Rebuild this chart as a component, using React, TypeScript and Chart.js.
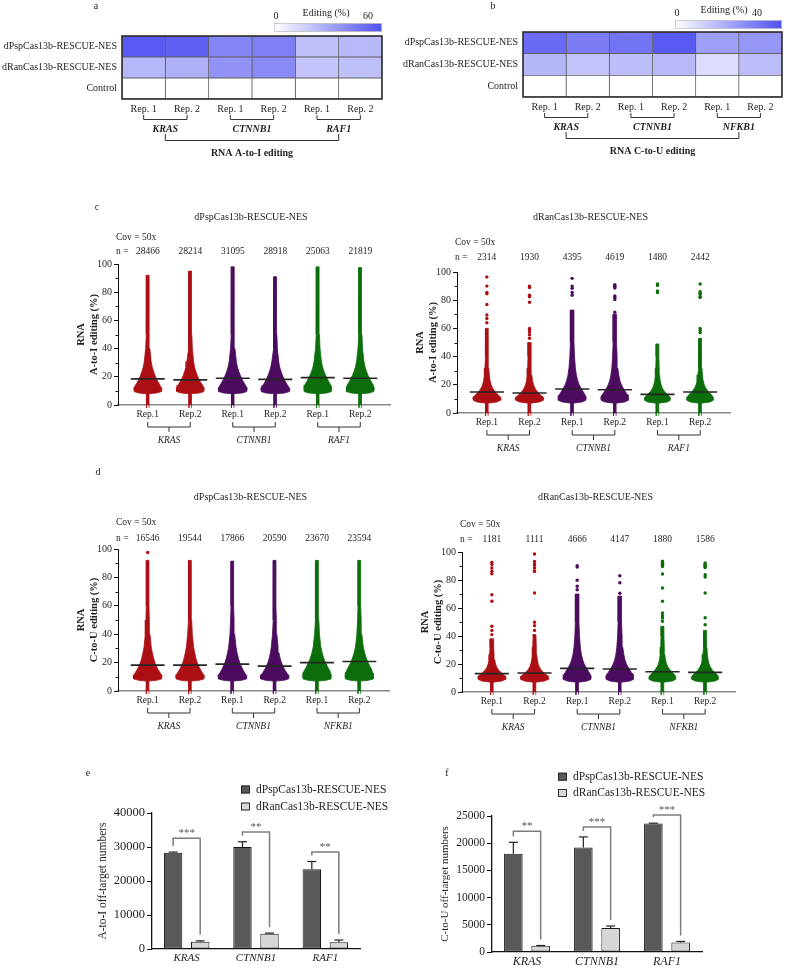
import React, { useEffect, useRef } from 'react';
import { Chart, registerables } from 'chart.js';

Chart.register(...registerables);

const SERIF = "'Liberation Serif', 'Times New Roman', Times, serif";
const INK = '#1e1e1e';

/* ---------------- panels a / b : heatmaps ---------------- */
const HEAT_ROWS = ['dPspCas13b-RESCUE-NES', 'dRanCas13b-RESCUE-NES', 'Control'];
const HEAT_REPS = ['Rep. 1', 'Rep. 2', 'Rep. 1', 'Rep. 2', 'Rep. 1', 'Rep. 2'];
const GENES_AI = ['KRAS', 'CTNNB1', 'RAF1'];
const GENES_CU = ['KRAS', 'CTNNB1', 'NFKB1'];
const HEAT_A_PSP = [57, 55, 42, 44, 22, 24];
const HEAT_A_RAN = [25, 27, 37, 40, 20, 22];
const HEAT_A_CTRL = [0, 0, 0, 0, 0, 0];
const HEAT_A_MAX = 60;
const HEAT_B_PSP = [34, 30, 32, 38, 22, 24];
const HEAT_B_RAN = [17, 13.5, 15, 16, 8, 15];
const HEAT_B_CTRL = [0, 0, 0, 0, 0, 0];
const HEAT_B_MAX = 40;
const HEAT_HIGH = [80, 80, 242];

/* ---------------- panels c / d : swarm plots ---------------- */
const REP_LABELS = ['Rep.1', 'Rep.2', 'Rep.1', 'Rep.2', 'Rep.1', 'Rep.2'];
const COL_COLORS = ['#ab0f14', '#ab0f14', '#4b0b5e', '#4b0b5e', '#0b6e0b', '#0b6e0b'];
const Y_TICKS_MINOR = [10, 30, 50, 70, 90];

// c, left: dPspCas13b A-to-I
const C_PSP_N = ['28466', '28214', '31095', '28918', '25063', '21819'];
const C_PSP_MEDIAN = [18.5, 17.8, 19, 18.2, 19.4, 19];
const C_PSP_TOP = [92, 95, 98, 91, 98, 97.5];
const C_PSP_OUTLIERS = [[], [], [], [], [], []];
const PSP_LEVELS = [-2, 8, 8.5, 9.5, 12, 13, 14, 15.5, 17, 19, 21, 23.5, 27, 31, 40, 50, 60];
const C_PSP_WIDTHS = [
  [0.03, 0.03, 0.21, 0.32, 0.33, 0.31, 0.29, 0.26, 0.23, 0.2, 0.17, 0.14, 0.105, 0.08, 0.05, 0.038, 0.03],
  [0.03, 0.03, 0.21, 0.32, 0.33, 0.31, 0.29, 0.26, 0.225, 0.195, 0.165, 0.135, 0.1, 0.078, 0.049, 0.037, 0.03],
  [0.03, 0.03, 0.22, 0.33, 0.34, 0.32, 0.3, 0.27, 0.24, 0.21, 0.18, 0.145, 0.11, 0.084, 0.052, 0.04, 0.031],
  [0.03, 0.03, 0.22, 0.33, 0.34, 0.31, 0.29, 0.26, 0.23, 0.2, 0.17, 0.138, 0.104, 0.08, 0.05, 0.038, 0.03],
  [0.03, 0.03, 0.21, 0.32, 0.33, 0.32, 0.31, 0.28, 0.25, 0.22, 0.185, 0.15, 0.113, 0.086, 0.053, 0.04, 0.031],
  [0.03, 0.03, 0.21, 0.32, 0.33, 0.32, 0.31, 0.28, 0.25, 0.22, 0.185, 0.15, 0.113, 0.086, 0.053, 0.04, 0.031],
];

// c, right: dRanCas13b A-to-I
const C_RAN_N = ['2314', '1930', '4395', '4619', '1480', '2442'];
const C_RAN_MEDIAN = [14.9, 14.2, 17, 16.5, 13.2, 14.9];
const C_RAN_TOP = [60, 50, 73, 70, 49, 53];
const C_RAN_OUTLIERS = [
  [96.5, 90, 85.5, 84.5, 77, 69.5, 67, 64],
  [90, 89, 83.5, 82.5, 78.5, 60, 59, 57.5, 55.5, 53],
  [95.5, 90, 88.5, 85.5, 83.5],
  [91, 90.3, 89.5, 88.7, 83, 82, 80.5, 71.5],
  [91.5, 90.5, 86.5, 85.5],
  [91.5, 86, 85, 84, 82.5, 82, 60, 58.5, 57],
];
const RAN_LEVELS = [-2, 7, 7.8, 9, 11, 12.5, 14, 16, 18, 20, 23, 27, 32, 40, 50];
const C_RAN_WIDTHS = [
  [0.03, 0.03, 0.23, 0.32, 0.33, 0.28, 0.23, 0.17, 0.13, 0.1, 0.075, 0.058, 0.045, 0.037, 0.03],
  [0.03, 0.03, 0.23, 0.32, 0.33, 0.27, 0.22, 0.16, 0.12, 0.094, 0.07, 0.054, 0.043, 0.035, 0.03],
  [0.03, 0.03, 0.23, 0.32, 0.33, 0.31, 0.28, 0.24, 0.2, 0.165, 0.13, 0.098, 0.075, 0.055, 0.042],
  [0.03, 0.03, 0.23, 0.32, 0.33, 0.31, 0.27, 0.23, 0.19, 0.155, 0.12, 0.092, 0.07, 0.053, 0.04],
  [0.03, 0.03, 0.23, 0.3, 0.3, 0.26, 0.2, 0.145, 0.11, 0.086, 0.063, 0.05, 0.04, 0.032, 0.03],
  [0.03, 0.03, 0.23, 0.31, 0.31, 0.28, 0.23, 0.17, 0.125, 0.097, 0.07, 0.054, 0.042, 0.034, 0.03],
];

// d, left: dPspCas13b C-to-U
const D_PSP_N = ['16546', '19544', '17866', '20590', '23670', '23594'];
const D_PSP_MEDIAN = [18.2, 18.2, 18.9, 17.5, 20, 20.8];
const D_PSP_TOP = [92, 92, 91.5, 92, 92, 92];
const D_PSP_OUTLIERS = [[97.5], [], [], [], [], []];
const D_PSP_LEVELS = [-2, 7, 7.5, 8.5, 11, 12, 13, 14.5, 16, 18, 20, 23, 27, 31, 40, 50, 60];
const D_PSP_WIDTHS = [
  [0.03, 0.03, 0.21, 0.33, 0.34, 0.31, 0.29, 0.26, 0.23, 0.2, 0.17, 0.14, 0.11, 0.085, 0.055, 0.04, 0.031],
  [0.03, 0.03, 0.21, 0.33, 0.34, 0.31, 0.29, 0.26, 0.23, 0.2, 0.17, 0.14, 0.11, 0.085, 0.055, 0.04, 0.031],
  [0.03, 0.03, 0.21, 0.33, 0.34, 0.31, 0.29, 0.26, 0.235, 0.205, 0.175, 0.143, 0.112, 0.087, 0.056, 0.041, 0.031],
  [0.03, 0.03, 0.21, 0.33, 0.34, 0.3, 0.28, 0.25, 0.22, 0.19, 0.16, 0.13, 0.1, 0.08, 0.052, 0.039, 0.03],
  [0.03, 0.03, 0.21, 0.33, 0.34, 0.33, 0.32, 0.3, 0.27, 0.235, 0.2, 0.16, 0.12, 0.09, 0.058, 0.042, 0.032],
  [0.03, 0.03, 0.21, 0.33, 0.34, 0.33, 0.32, 0.3, 0.275, 0.24, 0.205, 0.165, 0.123, 0.092, 0.059, 0.043, 0.032],
];

// d, right: dRanCas13b C-to-U
const D_RAN_N = ['1181', '1111', '4666', '4147', '1880', '1586'];
const D_RAN_MEDIAN = [13.1, 13.6, 16.9, 16.4, 14.5, 14];
const D_RAN_TOP = [38, 41, 70, 68.5, 47, 44];
const D_RAN_OUTLIERS = [
  [92.6, 91, 88.6, 86.2, 84.5, 69.5, 64.8, 47, 44, 41],
  [98.6, 93.3, 91.5, 90.5, 88.6, 86.5, 86, 70.7, 49.8, 47.4, 44],
  [90.2, 89.2, 79.8, 75.5, 73],
  [83, 78, 70.5],
  [93.5, 92.8, 92, 91.2, 90.4, 89.6, 84.3, 74.3, 64.8, 56.4, 54.5, 52.9, 50.5],
  [92.1, 91.3, 90.5, 89.7, 88.9, 83.8, 82.1, 70.7, 53, 48],
];
const D_RAN_WIDTHS = [
  [0.03, 0.03, 0.23, 0.32, 0.33, 0.27, 0.21, 0.15, 0.11, 0.087, 0.066, 0.052, 0.042, 0.034, 0.03],
  [0.03, 0.03, 0.23, 0.32, 0.33, 0.27, 0.21, 0.15, 0.11, 0.087, 0.066, 0.052, 0.042, 0.034, 0.03],
  [0.03, 0.03, 0.23, 0.32, 0.33, 0.31, 0.28, 0.24, 0.2, 0.165, 0.13, 0.098, 0.075, 0.055, 0.042],
  [0.03, 0.03, 0.23, 0.32, 0.33, 0.31, 0.27, 0.23, 0.19, 0.155, 0.12, 0.092, 0.07, 0.053, 0.04],
  [0.03, 0.03, 0.23, 0.31, 0.31, 0.28, 0.23, 0.17, 0.125, 0.095, 0.07, 0.053, 0.042, 0.034, 0.03],
  [0.03, 0.03, 0.23, 0.31, 0.31, 0.28, 0.22, 0.16, 0.12, 0.092, 0.068, 0.052, 0.041, 0.033, 0.03],
];

/* ---------------- panels e / f : bar charts ---------------- */
const BAR_GENES = ['KRAS', 'CTNNB1', 'RAF1'];
const SERIES_NAMES = ['dPspCas13b-RESCUE-NES', 'dRanCas13b-RESCUE-NES'];
const E_PSP = [28340, 30007, 23441];
const E_PSP_SD = [178, 1539, 2294];
const E_RAN = [2122, 4507, 1961];
const E_RAN_SD = [272, 158, 680];
const E_SIG = ['***', '**', '**'];
const E_BRACKET = [32600, 34400, 28500];
const F_PSP = [18045, 19228, 23632];
const F_PSP_SD = [2120, 1926, 54];
const F_RAN = [1146, 4407, 1733];
const F_RAN_SD = [49, 367, 208];
const F_SIG = ['**', '***', '***'];
const F_BRACKET = [22200, 23000, 25200];

/* ---------------- helpers ---------------- */
function font(size: number, weight = 'normal', style = 'normal') {
  return `${style} ${weight} ${size}px ${SERIF}`;
}
function txt(ctx: any, s: string, x: number, y: number, f: string, align: any = 'center', color = INK) {
  ctx.font = f;
  ctx.fillStyle = color;
  ctx.textAlign = align;
  ctx.textBaseline = 'middle';
  ctx.fillText(s, x, y);
}
function poly(ctx: any, pts: number[][], color: string, width: number) {
  ctx.beginPath();
  ctx.strokeStyle = color;
  ctx.lineWidth = width;
  pts.forEach((p, i) => (i ? ctx.lineTo(p[0], p[1]) : ctx.moveTo(p[0], p[1])));
  ctx.stroke();
}
function heatColor(v: number, max: number) {
  const t = Math.max(0, Math.min(1, v / max));
  const c = HEAT_HIGH.map((h) => Math.round(255 + (h - 255) * t));
  return `rgb(${c[0]},${c[1]},${c[2]})`;
}

/* ---------------- heatmap config ---------------- */
function heatConfig(p: any) {
  const rows = [p.psp, p.ran, p.ctrl];
  const datasets = HEAT_REPS.map((_, c) => ({
    data: HEAT_ROWS.map(() => [c, c + 1]),
    backgroundColor: rows.map((r: number[]) => heatColor(r[c], p.max)),
    borderColor: '#5e5e5e',
    borderWidth: 0.75,
    borderSkipped: false,
    barPercentage: 1,
    categoryPercentage: 1,
    grouped: false,
  }));
  const deco = {
    id: 'heatDeco',
    afterDraw(chart: any) {
      const { ctx, chartArea: a } = chart;
      const xs = chart.scales.x;
      ctx.save();
      ctx.strokeStyle = '#2e2e2e';
      ctx.lineWidth = 1.6;
      ctx.strokeRect(a.left, a.top, a.right - a.left, a.bottom - a.top);
      txt(ctx, p.letter, p.letterX, 6, font(10));
      const cb = p.cbar;
      const g = ctx.createLinearGradient(cb.x, 0, cb.x + cb.w, 0);
      g.addColorStop(0, '#ffffff');
      g.addColorStop(1, heatColor(p.max, p.max));
      ctx.fillStyle = g;
      ctx.fillRect(cb.x, cb.y, cb.w, cb.h);
      ctx.strokeStyle = '#c6c6c6';
      ctx.lineWidth = 0.8;
      ctx.strokeRect(cb.x + 0.5, cb.y + 0.5, cb.w - 1, cb.h - 1);
      txt(ctx, '0', cb.x + 2, cb.y - 7, font(10));
      txt(ctx, 'Editing (%)', p.editX, cb.y - 10, font(10));
      txt(ctx, String(p.max), p.maxX, cb.y - 7, font(10));
      HEAT_REPS.forEach((lab, c) => txt(ctx, lab, xs.getPixelForValue(c + 0.5), a.bottom + 10, font(10)));
      const centers: number[] = [];
      p.genes.forEach((gname: string, k: number) => {
        const x1 = xs.getPixelForValue(2 * k + 0.5);
        const x2 = xs.getPixelForValue(2 * k + 1.5);
        const yb = a.bottom + 20.5;
        poly(ctx, [[x1, yb - 4.5], [x1, yb], [x2, yb], [x2, yb - 4.5]], '#333', 1);
        centers.push((x1 + x2) / 2);
        txt(ctx, gname, (x1 + x2) / 2, a.bottom + 30, font(10, 'bold', 'italic'));
      });
      const y1 = a.bottom + 35;
      const y2 = a.bottom + 41.5;
      const xa = centers[0];
      const xb = centers[centers.length - 1];
      poly(ctx, [[xa, y1], [xa, y2], [xb, y2], [xb, y1]], '#333', 1);
      txt(ctx, p.caption, (xa + xb) / 2, a.bottom + 54, font(10, 'bold'));
      ctx.restore();
    },
  };
  return {
    type: 'bar',
    data: { labels: HEAT_ROWS, datasets },
    options: {
      animation: false,
      responsive: false,
      indexAxis: 'y',
      layout: { padding: p.pad },
      plugins: { legend: { display: false }, tooltip: { enabled: false } },
      scales: {
        x: { type: 'linear', min: 0, max: 6, display: false },
        y: {
          grid: { display: false, drawTicks: false },
          border: { display: false },
          ticks: { font: { family: SERIF, size: 10 }, color: INK, padding: 5 },
          afterFit: (s: any) => { s.width = p.yWidth; },
        },
      },
    },
    plugins: [deco],
  };
}

/* ---------------- swarm config ---------------- */
function blobPoints(center: number, levels: number[], widths: number[], top: number) {
  const lv: number[] = [];
  const wd: number[] = [];
  levels.forEach((l, k) => { if (l < top) { lv.push(l); wd.push(widths[k]); } });
  lv.push(top);
  wd.push(wd[wd.length - 1]);
  const right = lv.map((l, k) => ({ x: center + wd[k], y: l }));
  const left = lv.map((l, k) => ({ x: center - wd[k], y: l })).reverse();
  return right.concat(left);
}

function swarmConfig(p: any) {
  const datasets: any[] = [];
  p.medians.forEach((m: number, i: number) => datasets.push({
    data: [{ x: i - 0.4, y: m }, { x: i + 0.4, y: m }],
    borderColor: '#262626', borderWidth: 1.6, pointRadius: 0, fill: false, order: 0,
  }));
  p.outliers.forEach((pts: number[], i: number) => datasets.push({
    data: pts.map((y) => ({ x: i, y })),
    showLine: false, pointRadius: 1.7, pointBorderWidth: 0,
    pointBackgroundColor: COL_COLORS[i], borderColor: COL_COLORS[i], order: 1,
  }));
  p.widths.forEach((w: number[], i: number) => datasets.push({
    data: blobPoints(i, p.levels, w, p.tops[i]),
    borderColor: COL_COLORS[i], backgroundColor: COL_COLORS[i], borderWidth: 0.8,
    pointRadius: 0, fill: 'shape', tension: 0, order: 2, clip: 6,
  }));
  const deco = {
    id: 'swarmDeco',
    afterDraw(chart: any) {
      const { ctx, chartArea: a } = chart;
      const xs = chart.scales.x;
      const ys = chart.scales.y;
      ctx.save();
      if (p.letter) txt(ctx, p.letter, p.letterX, p.letterY, font(10));
      txt(ctx, p.title, (a.left + a.right) / 2 - 3, p.titleY, font(10));
      txt(ctx, 'Cov = 50x', a.left - 2, p.covY, font(9.5), 'left');
      txt(ctx, 'n =', a.left - 2, p.nY, font(9.5), 'left');
      p.counts.forEach((n: string, i: number) => txt(ctx, n, xs.getPixelForValue(i), p.nY, font(9.5)));
      Y_TICKS_MINOR.forEach((v) => {
        const y = Math.round(ys.getPixelForValue(v)) + 0.5;
        poly(ctx, [[a.left - 2.5, y], [a.left, y]], '#111', 1);
      });
      const my = (a.top + a.bottom) / 2;
      [[p.yTitle[0], a.left - 37], [p.yTitle[1], a.left - 24]].forEach(([s, x]: any) => {
        ctx.save();
        ctx.translate(x, my);
        ctx.rotate(-Math.PI / 2);
        txt(ctx, s, 0, 0, font(10.5, 'bold'));
        ctx.restore();
      });
      p.genes.forEach((g: string, k: number) => {
        const x1 = xs.getPixelForValue(2 * k);
        const x2 = xs.getPixelForValue(2 * k + 1);
        const yb = a.bottom + 22;
        const xm = (x1 + x2) / 2;
        poly(ctx, [[x1, yb - 5], [x1, yb], [x2, yb], [x2, yb - 5]], '#333', 1);
        poly(ctx, [[xm, yb], [xm, yb + 5]], '#333', 1);
        txt(ctx, g, xm, a.bottom + 35, font(9.5, 'normal', 'italic'));
      });
      ctx.restore();
    },
  };
  return {
    type: 'line',
    data: { datasets },
    options: {
      animation: false,
      responsive: false,
      layout: { padding: p.pad },
      plugins: { legend: { display: false }, tooltip: { enabled: false } },
      elements: { line: { tension: 0 } },
      scales: {
        x: {
          type: 'linear', min: -0.7, max: 5.7,
          afterBuildTicks: (s: any) => { s.ticks = REP_LABELS.map((_, i) => ({ value: i })); },
          ticks: {
            callback: (_v: any, i: number) => REP_LABELS[i],
            font: { family: SERIF, size: 9.5 }, color: INK, padding: 4, autoSkip: false, maxRotation: 0,
          },
          grid: { display: false, drawTicks: false },
          border: { color: '#8a8a8a', width: 1.5 },
          afterFit: (s: any) => { s.height = 20; },
        },
        y: {
          min: 0, max: 100,
          ticks: { stepSize: 20, font: { family: SERIF, size: 10 }, color: INK, padding: 2 },
          grid: { display: true, drawOnChartArea: false, drawTicks: true, tickLength: 4, color: '#111' },
          border: { color: '#111', width: 1 },
          afterFit: (s: any) => { s.width = 48; },
        },
      },
    },
    plugins: [deco],
  };
}

/* ---------------- bar config ---------------- */
function barConfig(p: any) {
  const deco = {
    id: 'barDeco',
    afterDatasetsDraw(chart: any) {
      const { ctx } = chart;
      const ys = chart.scales.y;
      const m0 = chart.getDatasetMeta(0);
      const m1 = chart.getDatasetMeta(1);
      ctx.save();
      [[m0, p.psp, p.pspSd], [m1, p.ran, p.ranSd]].forEach(([meta, vals, sds]: any) => {
        meta.data.forEach((el: any, k: number) => {
          const yt = ys.getPixelForValue(vals[k] + sds[k]);
          poly(ctx, [[el.x, el.y], [el.x, yt]], '#222', 1.2);
          poly(ctx, [[el.x - 4.5, yt], [el.x + 4.5, yt]], '#222', 1.2);
        });
      });
      p.bracket.forEach((bv: number, k: number) => {
        const xa = m0.data[k].x;
        const xb = m1.data[k].x;
        const yh = ys.getPixelForValue(bv);
        const ya = ys.getPixelForValue(p.psp[k] + p.pspSd[k]) - 6;
        const yb = ys.getPixelForValue(p.ran[k] + p.ranSd[k]) - 6;
        poly(ctx, [[xa, Math.max(ya, yh + 2)], [xa, yh], [xb, yh], [xb, yb]], '#7d7d7d', 1.5);
        txt(ctx, p.sig[k], (xa + xb) / 2, yh - 5, font(11), 'center', '#555');
      });
      ctx.restore();
    },
    afterDraw(chart: any) {
      const { ctx, chartArea: a } = chart;
      ctx.save();
      txt(ctx, p.letter, p.letterX, 13, font(10));
      [['#595959', 0], ['#d6d6d6', 1]].forEach(([c, i]: any) => {
        const y = p.legendY[i];
        ctx.fillStyle = c;
        ctx.fillRect(p.legendX, y - 4, 9, 8);
        ctx.strokeStyle = '#222';
        ctx.lineWidth = 0.9;
        ctx.strokeRect(p.legendX + 0.5, y - 3.5, 8, 7);
        txt(ctx, SERIES_NAMES[i], p.legendX + 15, y, font(11.5), 'left');
      });
      ctx.translate(p.yTitleX, (a.top + a.bottom) / 2);
      ctx.rotate(-Math.PI / 2);
      txt(ctx, p.yTitle, 0, 0, font(p.titleSize));
      ctx.restore();
    },
  };
  return {
    type: 'bar',
    data: {
      labels: BAR_GENES,
      datasets: [
        { label: SERIES_NAMES[0], data: p.psp, backgroundColor: '#595959', borderColor: '#1a1a1a', borderWidth: 1, borderSkipped: false },
        { label: SERIES_NAMES[1], data: p.ran, backgroundColor: '#d6d6d6', borderColor: '#1a1a1a', borderWidth: 1, borderSkipped: false },
      ],
    },
    options: {
      animation: false,
      responsive: false,
      layout: { padding: p.pad },
      categoryPercentage: 0.78,
      barPercentage: 0.68,
      plugins: { legend: { display: false }, tooltip: { enabled: false } },
      scales: {
        x: {
          ticks: { font: { family: SERIF, size: p.xFont, style: 'italic' }, color: INK, padding: 3 },
          grid: { display: false, drawTicks: false },
          border: { color: '#111', width: 1.3 },
          afterFit: (s: any) => { s.height = p.xHeight; },
        },
        y: {
          min: 0, max: p.max,
          ticks: {
            stepSize: p.step, font: { family: SERIF, size: p.tickFont }, color: INK, padding: 2,
            callback: (v: any) => String(v),
          },
          grid: { display: true, drawOnChartArea: false, drawTicks: true, tickLength: 5, color: '#111' },
          border: { color: '#111', width: 1.3 },
          afterFit: (s: any) => { s.width = p.yWidth; },
        },
      },
    },
    plugins: [deco],
  };
}

/* ---------------- component ---------------- */
function ChartBox({ make, left, top, width, height }: any) {
  const ref = useRef<HTMLCanvasElement>(null);
  useEffect(() => {
    const chart = new Chart(ref.current as any, make());
    return () => chart.destroy();
  }, []);
  return (
    <canvas ref={ref} width={width} height={height}
      style={{ position: 'absolute', left, top, width, height, display: 'block' }} />
  );
}

const panels = [
  {
    key: 'a', left: 0, top: 0, width: 395, height: 165,
    make: () => heatConfig({
      psp: HEAT_A_PSP, ran: HEAT_A_RAN, ctrl: HEAT_A_CTRL, max: HEAT_A_MAX, genes: GENES_AI,
      caption: 'RNA A-to-I editing', letter: 'a', letterX: 96,
      pad: { left: 0, right: 13, top: 36, bottom: 66 }, yWidth: 122,
      cbar: { x: 274, y: 23, w: 108, h: 9 }, editX: 326, maxX: 368,
    }),
  },
  {
    key: 'b', left: 395, top: 0, width: 392, height: 165,
    make: () => heatConfig({
      psp: HEAT_B_PSP, ran: HEAT_B_RAN, ctrl: HEAT_B_CTRL, max: HEAT_B_MAX, genes: GENES_CU,
      caption: 'RNA C-to-U editing', letter: 'b', letterX: 98,
      pad: { left: 0, right: 5, top: 32, bottom: 68 }, yWidth: 128,
      cbar: { x: 280, y: 20, w: 107, h: 9 }, editX: 329, maxX: 362,
    }),
  },
  {
    key: 'cL', left: 0, top: 195, width: 393, height: 260,
    make: () => swarmConfig({
      counts: C_PSP_N, medians: C_PSP_MEDIAN, tops: C_PSP_TOP, outliers: C_PSP_OUTLIERS,
      levels: PSP_LEVELS, widths: C_PSP_WIDTHS, genes: GENES_AI,
      title: 'dPspCas13b-RESCUE-NES', yTitle: ['RNA', 'A-to-I editing (%)'],
      letter: 'c', letterX: 97, letterY: 12, titleY: 22, covY: 42, nY: 56,
      pad: { left: 70, right: 3, top: 69, bottom: 30 },
    }),
  },
  {
    key: 'cR', left: 393, top: 195, width: 394, height: 260,
    make: () => swarmConfig({
      counts: C_RAN_N, medians: C_RAN_MEDIAN, tops: C_RAN_TOP, outliers: C_RAN_OUTLIERS,
      levels: RAN_LEVELS, widths: C_RAN_WIDTHS, genes: GENES_AI,
      title: 'dRanCas13b-RESCUE-NES', yTitle: ['RNA', 'A-to-I editing (%)'],
      titleY: 22, covY: 47, nY: 62,
      pad: { left: 16, right: 57, top: 77, bottom: 22 },
    }),
  },
  {
    key: 'dL', left: 0, top: 460, width: 393, height: 280,
    make: () => swarmConfig({
      counts: D_PSP_N, medians: D_PSP_MEDIAN, tops: D_PSP_TOP, outliers: D_PSP_OUTLIERS,
      levels: D_PSP_LEVELS, widths: D_PSP_WIDTHS, genes: GENES_CU,
      title: 'dPspCas13b-RESCUE-NES', yTitle: ['RNA', 'C-to-U editing (%)'],
      letter: 'd', letterX: 98, letterY: 12, titleY: 37, covY: 62, nY: 78,
      pad: { left: 70, right: 3, top: 89, bottom: 29 },
    }),
  },
  {
    key: 'dR', left: 393, top: 460, width: 394, height: 280,
    make: () => swarmConfig({
      counts: D_RAN_N, medians: D_RAN_MEDIAN, tops: D_RAN_TOP, outliers: D_RAN_OUTLIERS,
      levels: RAN_LEVELS, widths: D_RAN_WIDTHS, genes: GENES_CU,
      title: 'dRanCas13b-RESCUE-NES', yTitle: ['RNA', 'C-to-U editing (%)'],
      titleY: 37, covY: 64, nY: 79,
      pad: { left: 21, right: 52, top: 92, bottom: 28 },
    }),
  },
  {
    key: 'e', left: 0, top: 760, width: 395, height: 209,
    make: () => barConfig({
      psp: E_PSP, pspSd: E_PSP_SD, ran: E_RAN, ranSd: E_RAN_SD, sig: E_SIG, bracket: E_BRACKET,
      max: 40000, step: 10000, tickFont: 12.5, xFont: 11, titleSize: 11.5,
      yTitle: 'A-to-I off-target numbers', yTitleX: 103, letter: 'e', letterX: 88,
      legendX: 241, legendY: [29.5, 46.5],
      pad: { left: 100, right: 35, top: 53, bottom: 0 }, yWidth: 52, xHeight: 20,
    }),
  },
  {
    key: 'f', left: 395, top: 760, width: 392, height: 209,
    make: () => barConfig({
      psp: F_PSP, pspSd: F_PSP_SD, ran: F_RAN, ranSd: F_RAN_SD, sig: F_SIG, bracket: F_BRACKET,
      max: 25000, step: 5000, tickFont: 11.5, xFont: 12, titleSize: 11,
      yTitle: 'C-to-U off-target numbers', yTitleX: 50, letter: 'f', letterX: 52,
      legendX: 163, legendY: [16.7, 33],
      pad: { left: 50, right: 85, top: 56, bottom: 0 }, yWidth: 47, xHeight: 17,
    }),
  },
];

export default function App() {
  return (
    <div style={{ position: 'absolute', left: 0, top: 0, width: 787, height: 969, background: '#fff', overflow: 'hidden' }}>
      {panels.map((p) => (
        <ChartBox key={p.key} make={p.make} left={p.left} top={p.top} width={p.width} height={p.height} />
      ))}
    </div>
  );
}
